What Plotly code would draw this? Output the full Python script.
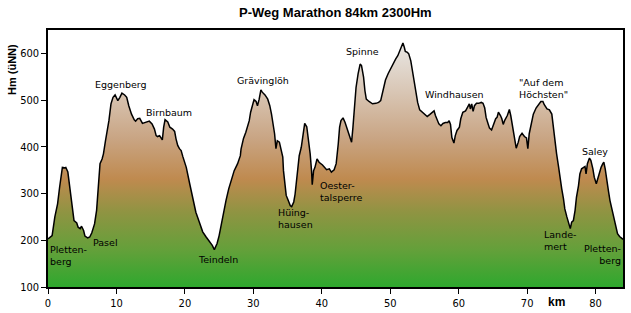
import plotly.graph_objects as go

km = [0.0, 0.6, 1.0, 1.4, 1.7, 2.1, 2.4, 2.6, 2.9, 3.1, 3.4, 3.8, 4.2, 4.4, 4.7, 4.9, 5.2, 5.4, 5.8, 6.1,
      6.4, 6.8, 7.1, 7.4, 7.6, 7.9, 8.1, 8.4, 8.7, 8.9, 9.2, 9.5, 9.8, 10.0, 10.2, 10.5, 10.8, 11.2, 11.5, 11.8,
      12.2, 12.6, 12.8, 13.1, 13.4, 13.8, 14.3, 14.8, 15.2, 15.55, 15.8, 16.0, 16.3, 16.5, 16.7, 16.9, 17.1, 17.5, 17.8, 18.2,
      18.5, 18.7, 18.95, 19.2, 19.45, 19.7, 19.9, 20.2, 20.7, 21.2, 21.6, 22.1, 22.6, 23.1, 23.6, 24.0, 24.3, 24.7, 25.0, 25.3,
      25.6, 26.0, 26.4, 26.8, 27.2, 27.7, 28.1, 28.2, 28.56, 28.9, 29.15, 29.4, 29.6, 29.9, 30.1, 30.4, 30.6, 30.85, 31.1, 31.3,
      31.7, 32.1, 32.4, 32.65, 32.9, 33.1, 33.3, 33.5, 33.8, 34.0, 34.3, 34.4, 34.6, 34.8, 35.1, 35.4, 35.6, 35.9, 36.1, 36.4,
      36.7, 37.0, 37.3, 37.5, 37.8, 38.0, 38.3, 38.5, 38.6, 38.8, 39.0, 39.3, 39.6, 40.1, 40.4, 40.7, 41.1, 41.4, 41.8, 42.1,
      42.4, 42.6, 42.8, 43.1, 43.4, 43.7, 44.0, 44.2, 44.35, 44.55, 44.8, 45.0, 45.3, 45.6, 45.8, 46.1, 46.3, 46.5, 46.9, 47.4,
      47.9, 48.3, 48.6, 48.8, 49.1, 49.3, 49.7, 50.05, 50.4, 50.8, 51.1, 51.4, 51.7, 51.85, 52.05, 52.2, 52.5, 52.7, 53.0, 53.2,
      53.5, 53.7, 54.0, 54.3, 54.7, 55.1, 55.4, 55.75, 56.1, 56.4, 56.6, 56.9, 57.1, 57.4, 57.7, 58.05, 58.4, 58.6, 58.8, 59.0,
      59.3, 59.5, 59.75, 60.1, 60.3, 60.6, 61.0, 61.3, 61.55, 61.7, 61.9, 62.1, 62.3, 62.6, 62.9, 63.3, 63.55, 63.8, 64.0, 64.3,
      64.5, 64.8, 65.0, 65.4, 65.6, 65.8, 66.1, 66.3, 66.5, 66.7, 67.1, 67.4, 67.6, 67.9, 68.2, 68.4, 68.7, 68.9, 69.25, 69.6,
      69.9, 70.1, 70.3, 70.6, 70.9, 71.3, 71.6, 72.0, 72.3, 72.5, 72.9, 73.25, 73.6, 73.8, 74.1, 74.3, 74.6, 74.8, 75.05, 75.3,
      75.5, 75.8, 76.0, 76.3, 76.5, 76.75, 77.0, 77.2, 77.5, 77.7, 77.95, 78.2, 78.45, 78.6, 78.8, 79.1, 79.3, 79.6, 79.8, 80.1,
      80.3, 80.55, 80.8, 81.05, 81.2, 81.4, 81.6, 81.9, 82.1, 82.4, 82.7, 83.0, 83.2, 83.5, 83.8, 84.0]

hm = [203, 210, 250, 278, 314, 356, 355, 356, 346, 321, 285, 242, 237, 228, 225, 230, 221, 209, 205, 207,
      216, 235, 264, 321, 364, 374, 385, 413, 435, 456, 492, 506, 511, 506, 499, 506, 515, 511, 506, 488,
      470, 458, 455, 460, 461, 450, 452, 455, 449, 438, 424, 422, 424, 419, 415, 442, 458, 453, 442, 438,
      433, 417, 403, 396, 392, 379, 371, 356, 321, 289, 260, 239, 218, 207, 198, 189, 180, 193, 210, 235,
      257, 285, 310, 331, 349, 364, 381, 395, 418, 431, 442, 456, 474, 488, 501, 497, 488, 502, 522, 517,
      511, 502, 488, 470, 449, 428, 396, 413, 410, 396, 378, 349, 317, 296, 285, 274, 272, 282, 299, 335,
      381, 399, 428, 450, 443, 421, 385, 349, 319, 349, 356, 374, 367, 361, 356, 351, 353, 346, 351, 364,
      406, 442, 456, 462, 452, 438, 422, 417, 410, 442, 485, 527, 556, 577, 574, 549, 520, 502, 497, 492,
      493, 495, 499, 513, 527, 543, 557, 568, 577, 588, 595, 606, 613, 622, 613, 604, 602, 599, 584, 566,
      541, 517, 495, 479, 474, 468, 465, 469, 474, 477, 467, 456, 449, 445, 450, 452, 452, 456, 448, 420,
      408, 424, 435, 442, 460, 474, 477, 485, 492, 481, 492, 476, 488, 493, 493, 495, 493, 483, 463, 449,
      440, 436, 445, 460, 463, 474, 467, 460, 448, 456, 467, 480, 467, 442, 420, 397, 410, 422, 429, 422,
      419, 396, 428, 452, 470, 483, 490, 497, 497, 490, 481, 479, 470, 442, 413, 385, 356, 331, 310, 289,
      267, 250, 239, 225, 239, 242, 264, 292, 317, 342, 353, 355, 358, 342, 364, 376, 371, 353, 335, 321,
      331, 346, 356, 364, 367, 353, 328, 303, 285, 267, 250, 232, 214, 208, 203, 202]

# place labels: (text, km, Hm, anchor)
labels = [
    ("Eggenberg", 10.67, 533, "center"),
    ("Birnbaum", 17.72, 474, "center"),
    ("Grävinglöh", 31.40, 543, "center"),
    ("Hüing-<br>hausen", 33.39, 246, "left"),
    ("Oester-<br>talsperre", 39.62, 305, "left"),
    ("Spinne", 45.89, 605, "center"),
    ("Windhausen", 59.34, 511, "center"),
    ("\"Auf dem<br>Höchsten\"", 68.63, 524, "left"),
    ("Saley", 79.93, 390, "center"),
    ("Pletten-<br>berg", 0.15, 167, "left"),
    ("Pasel", 6.49, 196, "left"),
    ("Teindeln", 24.85, 158, "center"),
    ("Lande-<br>mert", 72.37, 200, "left"),
    ("Pletten-<br>berg", 83.8, 170, "right"),
]

title_text = "P-Weg Marathon 84km 2300Hm"
y_title = "Hm (üNN)"
x_title = "km"
x_ticks = [0, 10, 20, 30, 40, 50, 60, 70, 80]
y_ticks = [100, 200, 300, 400, 500, 600]

fig = go.Figure()
fig.add_trace(go.Scatter(
    x=km, y=hm, mode="lines", fill="tozeroy",
    line=dict(color="black", width=1.5),
    fillgradient=dict(
        type="vertical", start=100, stop=650,
        colorscale=[
            [0.0, "#2ea82e"],
            [0.145, "#64a03a"],
            [0.29, "#8f9442"],
            [0.42, "#bf8a4f"],
            [0.58, "#c9a584"],
            [0.765, "#d9c7b6"],
            [0.945, "#e8e6e3"],
            [1.0, "#eeecea"],
        ]),
    hoverinfo="skip", showlegend=False,
))

tick_font = dict(family="Liberation Sans Narrow, DejaVu Sans Condensed, Liberation Sans", size=11, color="black")

fig.update_xaxes(range=[0, 84], tickvals=x_ticks, ticks="outside", ticklen=5, tickcolor="black",
                 showline=True, linecolor="black", linewidth=1.5, mirror=True, showgrid=False,
                 zeroline=False, tickfont=tick_font, automargin=False)
fig.update_yaxes(range=[100, 650], tickvals=y_ticks, ticks="outside", ticklen=5, tickcolor="black",
                 showline=True, linecolor="black", linewidth=1.5, mirror=True, showgrid=False,
                 zeroline=False, tickfont=tick_font, automargin=False)

W, H = 631, 313
pl, pr, pt, pb = 48, 8, 30, 26
pw, ph = W - pl - pr, H - pt - pb

ann = []
for text, x, y, anchor in labels:
    ann.append(dict(x=x, y=y, xref="x", yref="y", text=text, showarrow=False,
                    xanchor=anchor, yanchor="middle", align=anchor, borderpad=0,
                    font=dict(family="DejaVu Sans", size=9.5, color="black")))
ann.append(dict(x=74.22, y=-15 / ph, xref="x", yref="paper", text="<b>" + x_title + "</b>", showarrow=False,
                xanchor="center", yanchor="middle",
                font=dict(family="Liberation Sans", size=12, color="black")))
ann.append(dict(x=(12 - pl) / pw, y=(H - pb - 70) / ph, xref="paper", yref="paper",
                text="<b>" + y_title + "</b>", showarrow=False,
                textangle=-90, xanchor="center", yanchor="middle",
                font=dict(family="Liberation Sans", size=11, color="black")))
ann.append(dict(x=0.5, y=(H - pb - 12) / ph, xref="paper", yref="paper",
                text="<b>" + title_text + "</b>", showarrow=False,
                xanchor="center", yanchor="middle",
                font=dict(family="Liberation Sans", size=13, color="black")))

fig.update_layout(
    width=W, height=H,
    margin=dict(l=pl, r=pr, t=pt, b=pb, autoexpand=False),
    paper_bgcolor="white", plot_bgcolor="white",
    annotations=ann,
)

fig.write_html("out.html")
